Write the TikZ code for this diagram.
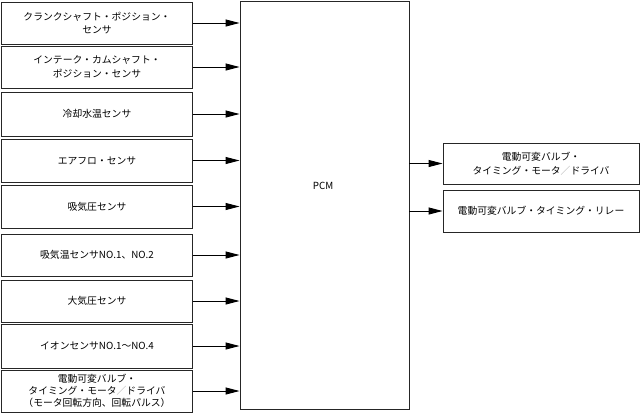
\documentclass[tikz,border=0pt]{standalone}
\usepackage{fontspec}
\setmainfont{Noto Sans CJK JP}
\usetikzlibrary{arrows.meta}
\tikzset{
  box/.style={draw=black!85, line width=0.9pt, rectangle, inner sep=0pt, align=center,
    font=\fontsize{9.8}{13.5}\selectfont},
  sbox/.style={box, minimum width=191.5pt},
  rbox/.style={box, minimum width=196pt},
  conn/.style={draw=black, line width=0.9pt, -{Triangle[length=14pt,width=7pt]}},
}
\newcommand{\gslash}{\textcolor{black!35}{／}}
\begin{document}
\begin{tikzpicture}[x=1pt,y=-1pt]
\useasboundingbox (0,0) rectangle (640,413);
\fill[white] (0,0) rectangle (640,413);
\node[box, minimum width=169pt, minimum height=407.5pt] (pcm) at (324.5,205.25) {};
\node[font=\fontsize{9.8}{12}\selectfont] (pcmlabel) at (323,186) {PCM};

\node[sbox, minimum height=42pt] (s1) at (97,23) {クランクシャフト・ポジション・\\センサ};
\node[sbox, minimum height=42pt] (s2) at (97,67) {インテーク・カムシャフト・\\ポジション・センサ};
\node[sbox, minimum height=44pt] (s3) at (97,114) {冷却水温センサ};
\node[sbox, minimum height=43pt] (s4) at (97,160.5) {エアフロ・センサ};
\node[sbox, minimum height=43pt] (s5) at (97,206.5) {吸気圧センサ};
\node[sbox, minimum height=42pt] (s6) at (97,255) {吸気温センサNO.1、NO.2};
\node[sbox, minimum height=42pt] (s7) at (97,301) {大気圧センサ};
\node[sbox, minimum height=44pt] (s8) at (97,346) {イオンセンサNO.1～NO.4};
\node[sbox, minimum height=42pt, font=\fontsize{9.8}{12}\selectfont] (s9) at (97,391) {電動可変バルブ・\\タイミング・モータ\gslash ドライバ\\（モータ回転方向、回転パルス）};

\foreach \n in {1,...,9}{
  \draw[conn] (s\n.east) -- (pcm.west |- s\n.east);
}

\node[rbox, minimum height=41pt] (r1) at (541,163.5) {電動可変バルブ・\\タイミング・モータ\gslash ドライバ};
\node[rbox, minimum height=42pt] (r2) at (541,211) {電動可変バルブ・タイミング・リレー};

\draw[conn] (pcm.east |- r1.west) -- (r1.west);
\draw[conn] (pcm.east |- r2.west) -- (r2.west);
\end{tikzpicture}
\end{document}
